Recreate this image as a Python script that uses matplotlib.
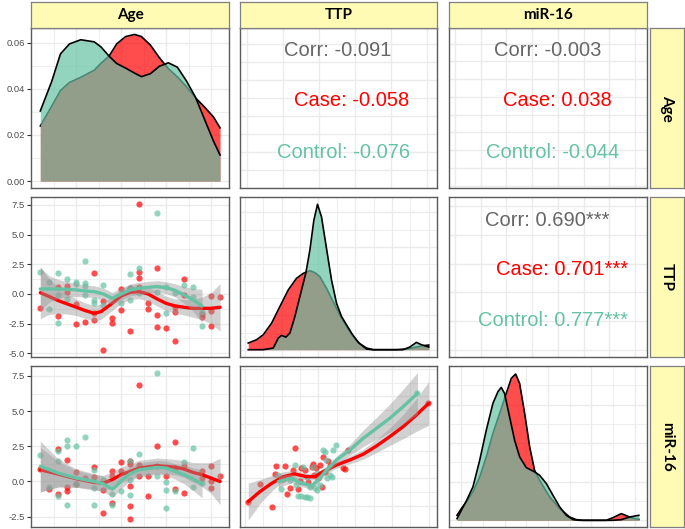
import numpy as np
import matplotlib
matplotlib.use("Agg")
import matplotlib.pyplot as plt

plt.rcParams["font.family"] = ["Liberation Sans", "DejaVu Sans"]

# ---------------- data ----------------
variables = ["Age", "TTP", "miR-16"]

# diagonal: Age density
age_grid = [27, 29.5, 31.5, 33.5, 36, 39, 40.5, 42.3, 44, 46, 48, 49.5, 51.5,
            53.5, 55.5, 57.5, 59.5, 61.5, 63.5, 65.5, 67]
age_dens_case = [0.0239, 0.0324, 0.0393, 0.0428, 0.0450, 0.0481, 0.0511, 0.0542,
                 0.0595, 0.0627, 0.0636, 0.0627, 0.0590, 0.0535, 0.0488, 0.0452,
                 0.0410, 0.0362, 0.0322, 0.0279, 0.0231]
age_dens_control = [0.0304, 0.0430, 0.0552, 0.0595, 0.0613, 0.0604, 0.0582, 0.0542,
                    0.0510, 0.0490, 0.0468, 0.0453, 0.0466, 0.0498, 0.0513, 0.0494,
                    0.0435, 0.0365, 0.0270, 0.0175, 0.0113]

# diagonal: TTP density
ttp_grid_case = [-4.77, -4.2, -3.75, -3.18, -2.62, -2.05, -1.49, -1.03, -0.58, -0.24,
                 0.1, 0.55, 1.0, 1.45, 1.91, 2.36, 2.81, 3.27, 3.72, 5.3, 5.98,
                 6.66, 7.11, 7.5]
ttp_dens_case = [0.02, 0.03, 0.045, 0.08, 0.13, 0.18, 0.215, 0.23, 0.238, 0.232,
                 0.22, 0.185, 0.145, 0.105, 0.07, 0.04, 0.018, 0.005, 0.0, 0.0,
                 0.002, 0.008, 0.012, 0.014]
ttp_grid_control = [-4.77, -3.75, -3.07, -2.73, -2.51, -2.21, -1.94, -1.6, -1.26,
                    -0.85, -0.58, -0.31, -0.06, 0.21, 0.55, 0.89, 1.23, 1.57, 1.91,
                    2.25, 2.7, 3.27, 3.72, 5.75, 6.21, 6.66, 7.0, 7.5]
ttp_dens_control = [0.0, 0.0, 0.005, 0.035, 0.043, 0.038, 0.05, 0.10, 0.16, 0.232,
                    0.30, 0.39, 0.438, 0.40, 0.305, 0.21, 0.14, 0.10, 0.075, 0.05,
                    0.022, 0.002, 0.0, 0.0, 0.008, 0.022, 0.015, 0.008]

# diagonal: miR-16 density
mir_grid_case = [-2.75, -2.5, -2.21, -1.83, -1.44, -1.06, -0.68, -0.29, 0.09, 0.38,
                 0.63, 0.86, 1.15, 1.44, 1.72, 2.01, 2.59, 3.17, 3.74, 4.13, 4.51,
                 5.85, 6.24, 6.72, 7.1, 7.48, 7.73]
mir_dens_case = [0.015, 0.035, 0.055, 0.085, 0.13, 0.19, 0.26, 0.32, 0.38, 0.425,
                 0.438, 0.41, 0.32, 0.22, 0.15, 0.12, 0.07, 0.035, 0.01, 0.002, 0.0,
                 0.0, 0.008, 0.02, 0.012, 0.005, 0.003]
mir_grid_control = [-2.75, -2.5, -2.21, -1.83, -1.44, -1.06, -0.68, -0.39, -0.2,
                    -0.01, 0.28, 0.57, 0.86, 1.24, 1.72, 2.01, 2.4, 2.78, 3.17, 3.55,
                    3.94, 4.32, 6.24, 6.72, 7.2, 7.73]
mir_dens_control = [0.005, 0.03, 0.058, 0.10, 0.18, 0.27, 0.35, 0.385, 0.398, 0.38,
                    0.31, 0.24, 0.19, 0.158, 0.145, 0.135, 0.11, 0.075, 0.04, 0.015,
                    0.002, 0.0, 0.0, 0.002, 0.01, 0.015]

# lower: Age vs TTP
at_case_age = [27, 31, 31, 33, 33, 35, 35, 37, 39, 39, 39, 41, 41, 43, 43, 45, 45, 47,
               47, 49, 49, 49, 49, 51, 51, 53, 53, 53, 55, 57, 57, 57, 59, 59, 63, 63,
               65, 65, 65, 67]
at_case_ttp = [-1.15, 0.62, -1.85, 0.67, 0.2, -0.84, -2.56, -2.33, 1.74, -1.57, -2.19,
               -0.59, -4.72, -2.05, -2.42, 0.39, -1.35, 0.48, -3.12, 7.58, 1.88, 1.32,
               0.62, -0.79, -1.29, 2.16, -1.77, -2.75, -2.89, -1.07, -1.49, -3.93,
               1.24, -0.08, -1.69, -1.91, -0.17, -1.40, -2.7, -0.22]
at_ctrl_age = [27, 29, 29, 31, 31, 31, 33, 33, 35, 35, 37, 37, 37, 37, 39, 39, 41, 41,
               45, 47, 47, 47, 49, 49, 53, 53, 55, 55, 57, 59, 61, 61, 63, 63]
at_ctrl_ttp = [1.88, 1.04, -1.29, 1.80, -0.08, -2.42, 1.24, -0.45, 1.04, 0.84, 2.78,
               0.96, 0.67, -0.08, -0.5, -0.79, 0.76, -0.93, -0.79, 1.69, 0.48, -0.5,
               2.16, 0.1, 6.8, 0.2, 0.62, -1.57, 0.06, 0.76, 0.56, -0.28, -2.7, -1.5]
at_fit_case_x = [27, 29, 31, 33, 35, 37, 39, 40.5, 43, 45, 47, 49, 51, 53, 55, 57, 59,
                 61, 63, 65, 67]
at_fit_case_y = [0.11, -0.22, -0.56, -0.84, -1.12, -1.40, -1.63, -1.49, -0.79, -0.17,
                 0.14, 0.20, 0.0, -0.42, -0.79, -1.01, -1.12, -1.21, -1.21, -1.21,
                 -1.12]
at_fit_case_se = [2.2, 1.5, 1.1, 0.85, 0.7, 0.65, 0.65, 0.65, 0.6, 0.6, 0.6, 0.6, 0.6,
                  0.6, 0.6, 0.6, 0.65, 0.75, 0.95, 1.3, 2.0]
at_fit_ctrl_x = [27, 29, 31, 33, 35, 37, 39, 41, 43, 45, 47, 49, 51, 53, 55, 57, 59,
                 61, 63]
at_fit_ctrl_y = [0.42, 0.42, 0.42, 0.39, 0.34, 0.25, 0.2, 0.0, -0.37, 0.0, 0.34, 0.48,
                 0.56, 0.62, 0.53, 0.3, -0.08, -0.5, -1.01]
at_fit_ctrl_se = [1.8, 1.1, 0.8, 0.65, 0.55, 0.5, 0.5, 0.5, 0.5, 0.5, 0.5, 0.5, 0.5,
                  0.5, 0.5, 0.55, 0.7, 0.95, 1.4]

# lower: Age vs miR-16
am_case_age = [27, 29, 31, 31, 33, 33, 33, 35, 35, 37, 39, 39, 41, 41, 43, 43, 43, 45,
               45, 47, 47, 47, 47, 47, 49, 49, 49, 51, 51, 53, 53, 55, 57, 57, 57, 59,
               59, 63, 63, 65, 65, 65, 67]
am_case_mir = [0.88, -0.55, 2.31, -0.88, 1.55, -0.4, -0.67, 0.64, -0.19, 0.24, 1.02,
               0.31, -0.64, -2.21, 0.71, 0.36, -1.5, 1.36, 0.71, 1.48, 1.24, -0.31,
               -1.74, -2.69, 6.88, 1.19, 0.36, 0.36, -1.07, 2.5, 1.07, 0.36, 2.79, 0.95,
               -0.52, 1.12, -0.83, 0.71, 0.24, 1.12, 0.0, -0.48, 0.36]
am_ctrl_age = [27, 29, 31, 31, 31, 33, 33, 33, 35, 35, 37, 39, 39, 39, 41, 43, 43, 45,
               47, 47, 47, 49, 53, 53, 55, 55, 55, 57, 59, 61, 61, 63]
am_ctrl_mir = [1.86, -0.36, 2.14, 1.43, -1.07, 2.98, 2.5, -1.67, 2.5, -0.17, 3.14,
               0.83, -0.48, -1.71, 0.07, -0.9, -1.71, -0.71, 1.48, 0.12, -0.95, 1.95,
               7.71, 0.36, -0.07, -0.6, -1.86, -0.71, 1.36, 2.38, -0.36, -0.12]
am_fit_case_x = [27, 31, 35, 39, 41, 43, 45, 47, 49, 53, 57, 59, 61, 63, 65, 67]
am_fit_case_y = [0.83, 0.52, 0.19, -0.07, -0.12, 0.12, 0.48, 0.71, 0.95, 1.12, 1.02,
                 0.88, 0.64, 0.48, 0.24, 0.0]
am_fit_case_se = [1.6, 0.9, 0.6, 0.55, 0.55, 0.55, 0.55, 0.55, 0.55, 0.55, 0.55, 0.6,
                  0.7, 0.85, 1.1, 1.65]
am_fit_ctrl_x = [27, 31, 35, 39, 41, 43, 44, 45, 47, 49, 53, 55, 57, 59, 61, 63]
am_fit_ctrl_y = [1.07, 0.6, 0.24, 0.0, -0.17, -0.55, -0.3, 0.05, 0.55, 0.83, 1.0, 0.95,
                 0.71, 0.48, 0.17, -0.17]
am_fit_ctrl_se = [1.8, 1.0, 0.65, 0.55, 0.55, 0.55, 0.55, 0.55, 0.5, 0.5, 0.5, 0.5,
                  0.55, 0.65, 0.8, 1.0]

# lower: TTP vs miR-16
tm_case_ttp = [-4.77, -3.98, -3.18, -2.89, -2.96, -2.39, -2.28, -2.12, -1.94, -1.71,
               -1.56, -1.37, -1.26, -1.15, -0.92, -0.70, -0.47, -0.40, -0.31, -0.17,
               -0.02, 0.10, 0.21, 0.32, 0.44, 0.62, 0.78, 1.68, 1.79, 2.02, 7.45]
tm_case_mir = [-2.13, -0.52, -2.59, 1.13, 0.37, -0.09, 1.13, -1.43, -0.85, 0.76, 2.80,
               -1.01, -0.21, 0.91, 0.76, -0.30, 1.01, 1.28, 0.30, 0.91, 0.0, 1.22,
               -0.76, 1.98, 0.61, 1.59, 1.13, 0.91, 0.85, 2.59, 6.86]
tm_ctrl_ttp = [-2.73, -2.51, -1.94, -1.60, -1.49, -1.37, -1.15, -0.92, -0.76, -0.58,
               -1.08, -0.81, -0.54, -0.24, -0.08, 0.10, 0.32, 0.44, 0.50, 0.60, 0.78,
               0.89, 1.00, 1.18, -0.08, -0.36, 6.73]
tm_ctrl_mir = [0.30, -1.01, -0.15, 1.22, -0.61, -1.62, -1.62, -1.68, -1.68, -1.77,
               1.01, 0.15, -0.76, -0.91, -1.07, -0.61, 2.59, 2.44, 1.68, 0.0, 0.30,
               0.09, 2.59, 3.05, 0.46, 1.07, 7.77]
tm_fit_case_x = [-4.77, -3.98, -3.18, -2.39, -1.60, -0.81, -0.24, 0.32, 1.23, 2.14,
                 3.04, 3.95, 4.85, 5.76, 6.66, 7.5]
tm_fit_case_y = [-2.13, -1.22, -0.46, 0.15, 0.40, 0.15, 0.15, 0.61, 1.22, 1.68, 2.20,
                 2.96, 3.81, 4.73, 5.79, 6.86]
tm_fit_case_se = [1.7, 1.1, 0.7, 0.45, 0.35, 0.3, 0.3, 0.3, 0.3, 0.35, 0.45, 0.6,
                  0.8, 1.1, 1.5, 2.0]
tm_fit_ctrl_x = [-2.73, -1.82, -1.14, -0.46, -0.02, 0.55, 1.23, 2.14, 3.04, 3.95,
                 4.85, 5.76, 6.73]
tm_fit_ctrl_y = [-0.30, 0.0, -0.46, -0.70, -0.15, 0.76, 1.68, 2.59, 3.66, 4.57, 5.49,
                 6.55, 7.77]
tm_fit_ctrl_se = [0.55, 0.4, 0.3, 0.3, 0.3, 0.3, 0.35, 0.5, 0.75, 1.0, 1.3, 1.6, 1.9]

# upper: correlations
corr_all = ["-0.091", "-0.003", "0.690***"]
corr_case = ["-0.058", "0.038", "0.701***"]
corr_control = ["-0.076", "-0.044", "0.777***"]

# tick labels on the left column
age_dens_ticks = [0.0, 0.02, 0.04, 0.06]
age_dens_ticklabels = ["0.00", "0.02", "0.04", "0.06"]
ttp_ticks = [-5.0, -2.5, 0.0, 2.5, 5.0, 7.5]
ttp_ticklabels = ["-5.0", "-2.5", "0.0", "2.5", "5.0", "7.5"]
mir_ticks = [-2.5, 0.0, 2.5, 5.0, 7.5]
mir_ticklabels = ["-2.5", "0.0", "2.5", "5.0", "7.5"]

# ---------------- style ----------------
W, H = 685, 529
CASE = "#FF0000"
CONTROL = "#66C2A5"
CORR_GREY = "#666666"
GRID = "#EBEBEB"
STRIP_FILL = "#FFFBB5"
BORDER = "#5A5A5A"

col_px = [(31, 229), (240, 437), (449, 647)]
row_px = [(28, 188), (197, 357), (366, 527)]


def rect(x0, y0, x1, y1):
    return [x0 / W, 1 - y1 / H, (x1 - x0) / W, (y1 - y0) / H]


fig = plt.figure(figsize=(W / 100, H / 100), dpi=100)


def make_panel(r, c, xlim, ylim):
    ax = fig.add_axes(rect(col_px[c][0], row_px[r][0], col_px[c][1], row_px[r][1]))
    ax.set_xlim(*xlim)
    ax.set_ylim(*ylim)
    ax.set_xticks([])
    ax.set_yticks([])
    for s in ax.spines.values():
        s.set_color(BORDER)
        s.set_linewidth(1.0)
        s.set_zorder(10)
    return ax


def draw_grid(ax, xs, ys, major_x=None, major_y=None):
    for i, v in enumerate(xs):
        ax.axvline(v, color=GRID, lw=1.0 if (major_x is None or i % 2 == major_x) else 0.6, zorder=0)
    for i, v in enumerate(ys):
        ax.axhline(v, color=GRID, lw=1.0 if (major_y is None or i % 2 == major_y) else 0.6, zorder=0)


def left_ticks(ax, ticks, labels):
    ax.set_yticks(ticks)
    ax.set_yticklabels(labels)
    ax.tick_params(axis="y", length=3, width=0.8, color="#333333", pad=1.5,
                   labelsize=6.8, labelcolor="#4D4D4D")


def density(ax, xc, yc, xk, yk):
    ax.fill_between(xc, yc, 0, color=CASE, alpha=0.7, lw=0, zorder=2)
    ax.plot(xc, yc, color="black", lw=1.2, zorder=2)
    ax.fill_between(xk, yk, 0, color=CONTROL, alpha=0.7, lw=0, zorder=3)
    ax.plot(xk, yk, color="black", lw=1.2, zorder=3)


def scatter_smooth(ax, xc, yc, xk, yk, fc, fk):
    ax.scatter(xc, yc, s=20, color=CASE, alpha=0.7, lw=0, zorder=2)
    ax.scatter(xk, yk, s=20, color=CONTROL, alpha=0.7, lw=0, zorder=2)
    z = 3
    for (fx, fy, fse), col in ((fc, CASE), (fk, CONTROL)):
        fx, fy, fse = np.array(fx), np.array(fy), np.array(fse)
        ax.fill_between(fx, fy - fse, fy + fse, color="#999999", alpha=0.45, lw=0, zorder=z)
        ax.plot(fx, fy, color=col, lw=2.4, solid_capstyle="round", zorder=z + 1)
        z += 2


def corr_text(ax, i, pos):
    kw = dict(transform=ax.transAxes, fontsize=14.5, va="center")
    ax.text(pos[0][0], pos[0][1], "Corr: " + corr_all[i], color=CORR_GREY, ha="center", **kw)
    ax.text(pos[1][0], pos[1][1], "Case: " + corr_case[i], color=CASE, ha="right", **kw)
    ax.text(pos[2][0], pos[2][1], "Control: " + corr_control[i], color=CONTROL, ha="right", **kw)


age_lim = (24.93, 68.99)
ttp_col_lim = (-5.33, 8.06)
ttp_row_lim = (-5.31, 8.17)
mir_col_lim = (-3.21, 8.20)
mir_row_lim = (-3.24, 8.21)

age_lines = np.arange(30, 68, 5)
ttp_lines = np.arange(-5, 8.1, 1.25)
mir_lines = np.arange(-2.5, 8.3, 1.25)

# row 1
ax = make_panel(0, 0, age_lim, (-0.003, 0.0664))
draw_grid(ax, age_lines, np.arange(0, 0.066, 0.01), 1, 0)
density(ax, age_grid, age_dens_case, age_grid, age_dens_control)
left_ticks(ax, age_dens_ticks, age_dens_ticklabels)

ax = make_panel(0, 1, (0, 1), (0, 1))
draw_grid(ax, np.arange(0.034, 1, 0.183), np.arange(0, 1, 0.1125))
corr_text(ax, 0, ((0.496, 0.862), (0.859, 0.55), (0.863, 0.22)))

ax = make_panel(0, 2, (0, 1), (0, 1))
draw_grid(ax, np.arange(0.03, 1, 0.13), np.arange(0.014, 1, 0.111))
corr_text(ax, 1, ((0.499, 0.862), (0.822, 0.55), (0.859, 0.222)))

# row 2
ax = make_panel(1, 0, age_lim, ttp_row_lim)
draw_grid(ax, age_lines, ttp_lines, 1, 0)
scatter_smooth(ax, at_case_age, at_case_ttp, at_ctrl_age, at_ctrl_ttp,
               (at_fit_case_x, at_fit_case_y, at_fit_case_se),
               (at_fit_ctrl_x, at_fit_ctrl_y, at_fit_ctrl_se))
left_ticks(ax, ttp_ticks, ttp_ticklabels)

ax = make_panel(1, 1, ttp_col_lim, (-0.022, 0.46))
draw_grid(ax, ttp_lines, np.arange(0, 0.46, 0.0517), 0, 0)
density(ax, ttp_grid_case, ttp_dens_case, ttp_grid_control, ttp_dens_control)

ax = make_panel(1, 2, (0, 1), (0, 1))
draw_grid(ax, np.arange(0.03, 1, 0.13), np.arange(0.044, 1, 0.18))
corr_text(ax, 2, ((0.497, 0.856), (0.903, 0.544), (0.906, 0.225)))

# row 3
ax = make_panel(2, 0, age_lim, mir_row_lim)
draw_grid(ax, age_lines, mir_lines, 1, 0)
scatter_smooth(ax, am_case_age, am_case_mir, am_ctrl_age, am_ctrl_mir,
               (am_fit_case_x, am_fit_case_y, am_fit_case_se),
               (am_fit_ctrl_x, am_fit_ctrl_y, am_fit_ctrl_se))
left_ticks(ax, mir_ticks, mir_ticklabels)

ax = make_panel(2, 1, ttp_col_lim, (-4.45, 10.27))
draw_grid(ax, ttp_lines, np.arange(-2.5, 10.3, 1.25), 0, 0)
scatter_smooth(ax, tm_case_ttp, tm_case_mir, tm_ctrl_ttp, tm_ctrl_mir,
               (tm_fit_case_x, tm_fit_case_y, tm_fit_case_se),
               (tm_fit_ctrl_x, tm_fit_ctrl_y, tm_fit_ctrl_se))

ax = make_panel(2, 2, mir_col_lim, (-0.02, 0.462))
draw_grid(ax, mir_lines, np.arange(0, 0.46, 0.1155 / 2), 0, 0)
density(ax, mir_grid_case, mir_dens_case, mir_grid_control, mir_dens_control)

# strips
for c, name in enumerate(variables):
    sx = fig.add_axes(rect(col_px[c][0], 1.5, col_px[c][1], 28))
    sx.set_facecolor(STRIP_FILL)
    sx.set_xticks([]); sx.set_yticks([])
    for s in sx.spines.values():
        s.set_color("#7F7F7F"); s.set_linewidth(0.9)
    sx.text(0.5, 0.5, name, transform=sx.transAxes, ha="center", va="center",
            fontsize=11, fontweight="bold", family=["Lato", "DejaVu Sans"])

for r, name in enumerate(variables):
    sy = fig.add_axes(rect(650, row_px[r][0], 684, row_px[r][1]))
    sy.set_facecolor(STRIP_FILL)
    sy.set_xticks([]); sy.set_yticks([])
    for s in sy.spines.values():
        s.set_color("#7F7F7F"); s.set_linewidth(0.9)
    sy.text(0.5, 0.5, name, transform=sy.transAxes, ha="center", va="center",
            rotation=270, fontsize=11, fontweight="bold", family=["Lato", "DejaVu Sans"])

fig.savefig("out.png", dpi=100)
